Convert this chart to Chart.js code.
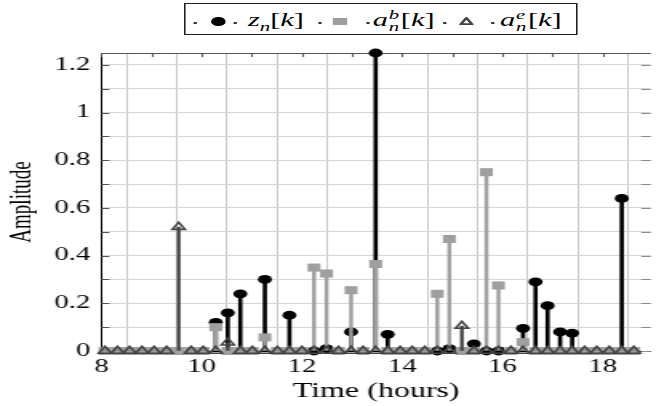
<!DOCTYPE html>
<html lang="en">
  <head>
    <meta charset="UTF-8" />
    <title>Stem Plot</title>
    <script src="https://cdn.jsdelivr.net/npm/chart.js"></script>
    <style>
      body { margin: 0; overflow: hidden; background: #fff; }
      /* the whole figure is drawn narrow and stretched sideways */
      #wrap { position: relative; width: 413px; height: 406px; transform: scaleX(1.6); transform-origin: 0 0; }
      #legend { position: absolute; left: 114.6px; top: 3.3px; width: 246px; height: 32px; box-sizing: border-box;
                border: 1px solid #222; background: #fff; font-family: 'Liberation Serif', 'DejaVu Serif', serif;
                font-size: 19px; color: #000; }
      #legend > span, #legend > svg { position: absolute; }
      .dot { width: 1.4px; height: 2px; background: #333; top: 17.4px; }
      .circle { width: 8.7px; height: 8.7px; border-radius: 50%; background: #000; top: 12.9px; }
      .square { width: 8.2px; height: 7.8px; background: #9f9f9f; top: 13.3px; }
      .tri { top: 13px; }
      .lbl { top: 6px; line-height: 19px; white-space: nowrap; }
      .lbl i { font-style: italic; }
      .sub { font-size: 13px; position: relative; top: 4.5px; font-style: italic; }
      .ss { display: inline-block; position: relative; width: 8px; height: 19px; vertical-align: top; font-size: 13px; line-height: 13px; font-style: italic; }
      .ss .up { position: absolute; left: 0.5px; top: -2.5px; }
      .ss .dn { position: absolute; left: 0.5px; top: 9.5px; }
    </style>
  </head>
  <body>
    <div id="wrap">
      <canvas id="stemChart" width="413" height="406"></canvas>
      <div id="legend">
        <span class="dot" style="left:5.6px"></span>
        <span class="circle" style="left:16.4px"></span>
        <span class="dot" style="left:30.6px"></span>
        <span class="lbl" style="left:39.4px"><i>z</i><span class="sub">n</span>[<i>k</i>]</span>
        <span class="dot" style="left:83.7px"></span>
        <span class="square" style="left:92.8px"></span>
        <span class="dot" style="left:113.7px"></span>
        <span class="lbl" style="left:117.4px"><i>a</i><span class="ss"><span class="up">b</span><span class="dn">n</span></span>[<i>k</i>]</span>
        <span class="dot" style="left:161.7px"></span>
        <svg class="tri" style="left:171.9px" width="9" height="8" viewBox="0 0 9 8">
          <polygon points="4.5,1 8.1,7.2 0.9,7.2" fill="none" stroke="#444" stroke-width="1.8" />
        </svg>
        <span class="dot" style="left:191.7px"></span>
        <span class="lbl" style="left:196.9px"><i>a</i><span class="ss"><span class="up">e</span><span class="dn">n</span></span>[<i>k</i>]</span>
      </div>
    </div>

    <script>
      // sample times (hours)
      const hours = [
        8.07, 8.32, 8.56, 8.81, 9.05, 9.30, 9.54, 9.79, 10.03, 10.28, 10.52,
        10.77, 11.01, 11.26, 11.51, 11.75, 12.00, 12.24, 12.49, 12.73, 12.98, 13.22,
        13.47, 13.71, 13.96, 14.20, 14.45, 14.70, 14.94, 15.19, 15.43, 15.68, 15.92,
        16.17, 16.41, 16.66, 16.90, 17.15, 17.39, 17.64, 17.88, 18.13, 18.38, 18.62
      ];

      // z_n[k]
      const zValues = [
        null, null, null, null, null, null, null, null, null, 0.12, 0.16,
        0.24, null, 0.30, null, 0.15, null, 0.00, 0.01, null, 0.08, null,
        1.25, 0.07, null, null, null, 0.00, 0.01, null, 0.03, 0.00, 0.00,
        null, 0.095, 0.29, 0.19, 0.08, 0.075, null, null, null, 0.64, null
      ];

      // a_n^b[k]
      const abValues = [
        0, 0, 0, 0, 0, 0, 0, 0, 0, 0.10, 0,
        0, 0, 0.057, 0, 0, 0, 0.35, 0.325, 0, 0.255, 0,
        0.365, 0, 0, 0, 0, 0.24, 0.47, 0, 0, 0.75, 0.275,
        0, 0.037, 0, 0, 0, 0, 0, 0, 0, 0, 0
      ];

      // a_n^e[k]
      const aeValues = [
        0, 0, 0, 0, 0, 0, 0.52, 0, 0, 0, 0.035,
        0, 0, 0, 0, 0, 0, 0, 0, 0, 0, 0,
        0, 0, 0, 0, 0, 0, 0, 0.105, 0, 0, 0,
        0, 0, 0, 0, 0, 0, 0, 0, 0, 0, 0
      ];

      const xLabelHours = [8, 10, 12, 14, 16, 18];
      const yLabelValues = [0, 0.2, 0.4, 0.6, 0.8, 1, 1.2];

      const toPoints = values =>
        hours.map((h, i) => ({ x: h, y: values[i] })).filter(p => p.y !== null);

      // top frame line plus short inward ticks on every side
      const frameTicks = {
        id: 'frameTicks',
        beforeDatasetsDraw(chart) {
          const { ctx, chartArea: a, scales: { x, y } } = chart;
          ctx.save();
          ctx.lineWidth = 1;
          ctx.strokeStyle = '#555';
          ctx.beginPath();
          ctx.moveTo(a.left, Math.round(a.top) + 0.5);
          ctx.lineTo(a.right, Math.round(a.top) + 0.5);
          ctx.stroke();

          ctx.strokeStyle = '#555';
          ctx.beginPath();
          x.ticks.forEach(t => {
            const px = Math.round(x.getPixelForValue(t.value)) + 0.5;
            ctx.moveTo(px, a.top); ctx.lineTo(px, a.top + 4);
            ctx.moveTo(px, a.bottom); ctx.lineTo(px, a.bottom - 4);
          });
          y.ticks.forEach(t => {
            const py = Math.round(y.getPixelForValue(t.value)) + 0.5;
            ctx.moveTo(a.left, py); ctx.lineTo(a.left + 5, py);
          });
          ctx.stroke();

          ctx.strokeStyle = '#8a8a8a';
          ctx.beginPath();
          y.ticks.forEach(t => {
            const py = Math.round(y.getPixelForValue(t.value)) + 0.5;
            ctx.moveTo(a.right - 6, py); ctx.lineTo(a.right, py);
          });
          ctx.stroke();
          ctx.restore();
        }
      };

      const serif = "'Liberation Serif', 'DejaVu Serif', serif";

      new Chart(document.getElementById('stemChart'), {
        type: 'bar',
        data: {
          datasets: [
            { data: toPoints(zValues), backgroundColor: '#000', barThickness: 2, grouped: false, order: 6 },
            { type: 'scatter', data: toPoints(zValues), pointStyle: 'circle', pointRadius: 4.4,
              pointBackgroundColor: '#000', pointBorderWidth: 0, clip: false, order: 5 },
            { data: toPoints(abValues), backgroundColor: '#9f9f9f', barThickness: 1.8, grouped: false, order: 4 },
            { type: 'scatter', data: toPoints(abValues), pointStyle: 'rect', pointRadius: 5.7,
              pointBackgroundColor: '#9f9f9f', pointBorderWidth: 0, clip: false, order: 3 },
            { data: toPoints(aeValues), backgroundColor: '#444', barThickness: 1.6, grouped: false, order: 2 },
            { type: 'scatter', data: toPoints(aeValues), pointStyle: 'triangle', pointRadius: 4.6,
              pointBackgroundColor: 'rgba(0,0,0,0)', pointBorderColor: '#444', pointBorderWidth: 1.6,
              clip: false, order: 1 }
          ]
        },
        options: {
          responsive: false,
          animation: false,
          events: [],
          layout: { padding: { top: 53, right: 0, bottom: 0, left: 0 } },
          plugins: { legend: { display: false }, tooltip: { enabled: false } },
          scales: {
            x: {
              type: 'linear',
              min: 8,
              max: 18.96,
              offset: false,
              afterFit: scale => { scale.height = 55; },
              afterBuildTicks: scale => {
                scale.ticks = scale.ticks.filter(t => Number.isInteger(t.value));
              },
              ticks: {
                stepSize: 1,
                includeBounds: false,
                autoSkip: false,
                maxRotation: 0,
                padding: 5,
                color: '#000',
                font: { family: serif, size: 18 },
                callback: v => (xLabelHours.includes(v) ? String(v) : '')
              },
              grid: { color: '#c8c8c8', lineWidth: 1, drawTicks: false },
              border: { color: '#000', width: 1 },
              title: {
                display: true,
                text: 'Time (hours)',
                color: '#000',
                font: { family: serif, size: 20 },
                padding: 2
              }
            },
            y: {
              min: 0,
              max: 1.25,
              afterFit: scale => { scale.width = 63.44; },
              afterBuildTicks: scale => {
                scale.ticks = scale.ticks.filter(t => Math.abs(t.value * 10 - Math.round(t.value * 10)) < 1e-6);
              },
              ticks: {
                stepSize: 0.1,
                includeBounds: false,
                autoSkip: false,
                padding: 7,
                color: '#000',
                font: { family: serif, size: 18 },
                callback: v => {
                  const hit = yLabelValues.find(l => Math.abs(l - v) < 1e-6);
                  return hit === undefined ? '' : String(hit);
                }
              },
              grid: { color: '#d6d6d6', lineWidth: 1, drawTicks: false },
              border: { color: '#000', width: 1 },
              title: {
                display: true,
                text: 'Amplitude',
                color: '#000',
                font: { family: serif, size: 19 },
                padding: 3
              }
            }
          }
        },
        plugins: [frameTicks]
      });
    </script>
  </body>
</html>
